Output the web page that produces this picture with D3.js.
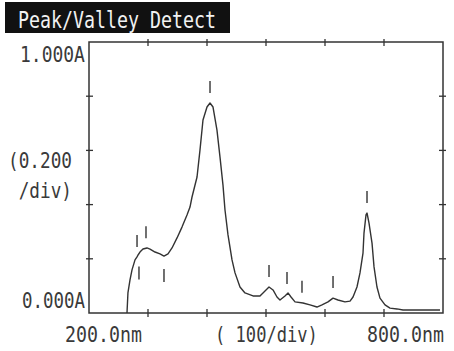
<!DOCTYPE html>
<html>
<head>
<meta charset="utf-8">
<script src="https://cdn.jsdelivr.net/npm/d3@7/dist/d3.min.js"></script>
<style>
  html, body { margin: 0; padding: 0; background: #fff; }
  svg { display: block; }
  text { font-family: "DejaVu Sans Mono", "Liberation Mono", monospace; }
</style>
</head>
<body>
<svg id="chart" width="454" height="351"></svg>
<script>
// ---- data ----
const wavelength = [264.4, 266, 269.5, 272.9, 278, 281.4, 283.1, 286.4, 291.5, 298.3, 303.4, 311.9, 320.3, 327.1, 333.9, 340.7, 349.2, 357.6, 366.1, 371.2, 374.6, 383.1, 388.1, 393.2, 400, 405.1, 410.2, 416.9, 422, 427.1, 430.5, 435.6, 442.4, 447.5, 455.9, 464.4, 478, 489.8, 498.3, 505.1, 511.9, 518.6, 523.7, 532.2, 537.3, 542.4, 549.2, 562.7, 574.6, 586.4, 594.9, 605.1, 613.6, 622, 633.9, 642.4, 647.5, 654.2, 659.3, 664.4, 666.1, 669.5, 671.2, 674.6, 679.7, 683.1, 688.1, 693.2, 701.7, 710.2, 722, 732.2, 766.1, 794.9];
const absorbance = [0, 0.074, 0.122, 0.159, 0.196, 0.207, 0.214, 0.225, 0.236, 0.240, 0.236, 0.225, 0.218, 0.210, 0.218, 0.240, 0.277, 0.317, 0.362, 0.391, 0.428, 0.502, 0.601, 0.712, 0.760, 0.775, 0.760, 0.675, 0.576, 0.472, 0.380, 0.288, 0.196, 0.148, 0.096, 0.074, 0.063, 0.063, 0.081, 0.096, 0.085, 0.059, 0.048, 0.063, 0.074, 0.059, 0.041, 0.037, 0.030, 0.022, 0.030, 0.041, 0.055, 0.048, 0.041, 0.044, 0.059, 0.096, 0.148, 0.221, 0.295, 0.362, 0.369, 0.332, 0.258, 0.170, 0.096, 0.055, 0.030, 0.018, 0.015, 0.011, 0.011, 0.011];
const peakNm = [281.4, 296.6, 405.1, 505.1, 535.6, 561, 613.6, 671.2];
const valleyNm = [284.7, 327.1];
const xTicks = [300, 400, 500, 600, 700];
const yTicks = [0.2, 0.4, 0.6, 0.8];
const title = "Peak/Valley Detect";
const yTopLabel = "1.000A";
const yBottomLabel = "0.000A";
const yDivLabel = ["(0.200", " /div)"];
const xLeftLabel = "200.0nm";
const xDivLabel = "( 100/div)";
const xRightLabel = "800.0nm";

// ---- chart ----
const svg = d3.select("#chart");
const ink = "#333";
const x = d3.scaleLinear().domain([200, 800]).range([89, 443]);
const y = d3.scaleLinear().domain([0, 1]).range([313, 42]);

// title block
svg.append("rect").attr("x", 5).attr("y", 2).attr("width", 225).attr("height", 31).attr("fill", "#111");
// condensed text: draw at natural size, then squeeze horizontally to the wanted width
function label(str, x0, base, width, size, color) {
  const t = svg.append("text").attr("x", 0).attr("y", 0)
    .attr("font-size", size).attr("fill", color || "#3a3a3a")
    .attr("xml:space", "preserve").style("white-space", "pre").text(str);
  const natural = t.node().getComputedTextLength() || width;
  t.attr("transform", `translate(${x0},${base}) scale(${width / natural},1)`);
  return t;
}
label(title, 18, 28, 198, 23, "#f2f2f2");

// frame
const [x0, x1] = x.range();
const [yb, yt] = y.range();
svg.append("rect").attr("x", x0).attr("y", yt).attr("width", x1 - x0).attr("height", yb - yt)
  .attr("fill", "none").attr("stroke", ink).attr("stroke-width", 1.5);

// ticks on all four sides (crossing the frame)
const g = svg.append("g").attr("stroke", ink).attr("stroke-width", 1.3);
yTicks.forEach(v => {
  g.append("line").attr("x1", x0 - 3).attr("x2", x0 + 4).attr("y1", y(v)).attr("y2", y(v));
  g.append("line").attr("x1", x1 - 4).attr("x2", x1 + 3).attr("y1", y(v)).attr("y2", y(v));
});
xTicks.forEach(v => {
  g.append("line").attr("x1", x(v)).attr("x2", x(v)).attr("y1", yb - 4).attr("y2", yb + 4);
  g.append("line").attr("x1", x(v)).attr("x2", x(v)).attr("y1", yt - 3).attr("y2", yt + 4);
});

// spectrum
const pts = wavelength.map((w, i) => [w, absorbance[i]]);
svg.append("path").datum(pts)
  .attr("fill", "none").attr("stroke", "#333").attr("stroke-width", 1.4)
  .attr("stroke-linejoin", "round")
  .attr("d", d3.line().x(d => x(d[0])).y(d => y(d[1])));

// peak / valley markers
const interp = nm => {
  const i = d3.bisectLeft(wavelength, nm);
  if (i <= 0) return absorbance[0];
  if (i >= wavelength.length) return absorbance[absorbance.length - 1];
  const t = (nm - wavelength[i - 1]) / (wavelength[i] - wavelength[i - 1]);
  return absorbance[i - 1] + t * (absorbance[i] - absorbance[i - 1]);
};
const m = svg.append("g").attr("stroke", "#333").attr("stroke-width", 1.4);
peakNm.forEach(nm => {
  const py = y(interp(nm));
  m.append("line").attr("x1", x(nm)).attr("x2", x(nm)).attr("y1", py - 22).attr("y2", py - 10);
});
valleyNm.forEach(nm => {
  const py = y(interp(nm));
  m.append("line").attr("x1", x(nm)).attr("x2", x(nm)).attr("y1", py + 13).attr("y2", py + 26);
});

// axis texts
label(yTopLabel, 20, 62, 65, 22);
label(yBottomLabel, 22, 308, 63, 22);
label(yDivLabel[0], 8, 168, 64, 22);
label(yDivLabel[1], 8, 198, 64, 22);
label(xLeftLabel, 65, 342, 77, 22);
label(xDivLabel, 215, 342, 103, 22);
label(xRightLabel, 367, 342, 77, 22);
</script>
</body>
</html>
